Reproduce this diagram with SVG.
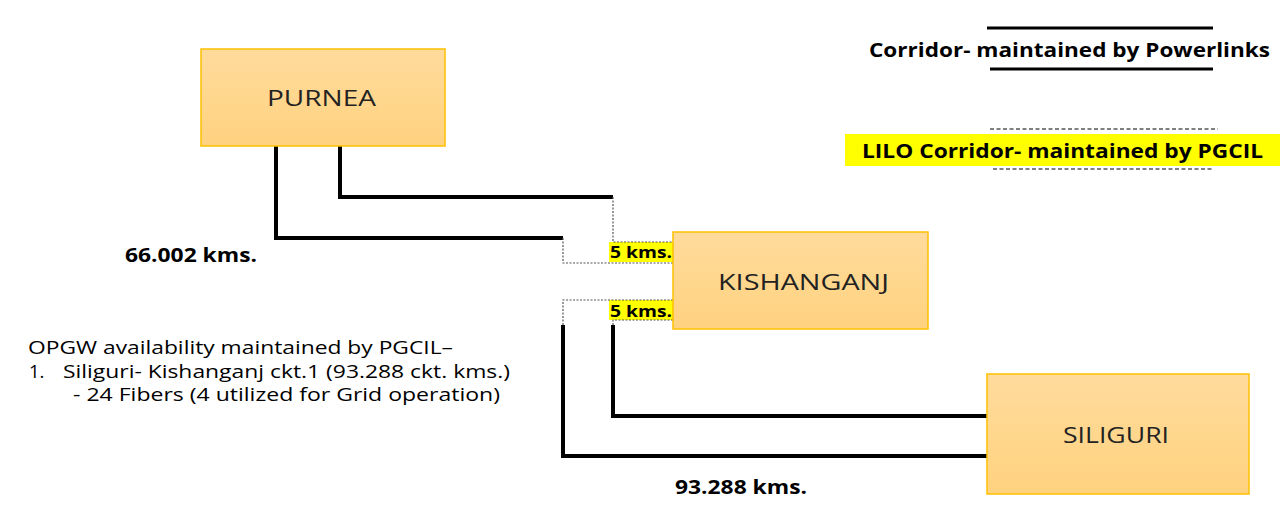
<svg xmlns="http://www.w3.org/2000/svg" width="1287" height="513" viewBox="0 0 1287 513">
<defs>
<linearGradient id="boxg" x1="0" y1="0" x2="0" y2="1">
<stop offset="0" stop-color="#FFDB9C"/>
<stop offset="1" stop-color="#FFD27F"/>
</linearGradient>
<style>
.box{fill:url(#boxg);stroke:#FFC000;stroke-width:1.5}
.bl{font-family:"Open Sans","Noto Sans","DejaVu Sans",sans-serif;font-size:22px;fill:#222}
.thick{fill:none;stroke:#000;stroke-width:4}
.dot{fill:none;stroke:#555;stroke-width:1.2;stroke-dasharray:2 1.5}
.b{font-family:"Open Sans","Noto Sans","DejaVu Sans",sans-serif;font-weight:bold;fill:#000}
.t{font-family:"Open Sans","Noto Sans","DejaVu Sans",sans-serif;font-size:18.5px;fill:#000}
.hl{fill:#FFFF00}
</style>
</defs>
<rect width="1287" height="513" fill="#fff"/>
<g id="connectors">
<polyline class="thick" points="276,146 276,238 563,238"/>
<polyline class="thick" points="340,146 340,197 613,197"/>
<polyline class="thick" points="563,325 563,456 987,456"/>
<polyline class="thick" points="613,325 613,416 987,416"/>
<rect class="hl" x="609" y="242" width="64" height="20"/>
<rect class="hl" x="609" y="300" width="64" height="20"/>
<polyline class="dot" points="563,238 563,263 673,263"/>
<polyline class="dot" points="613,197 613,242 673,242"/>
<polyline class="dot" points="563,325 563,300 673,300"/>
<polyline class="dot" points="613,325 613,320 673,320"/>
<text class="b" x="610" y="258" font-size="16" textLength="62" lengthAdjust="spacingAndGlyphs">5 kms.</text>
<text class="b" x="610" y="317" font-size="16" textLength="62" lengthAdjust="spacingAndGlyphs">5 kms.</text>
<text class="b" x="125" y="262" font-size="19" textLength="132" lengthAdjust="spacingAndGlyphs">66.002 kms.</text>
<text class="b" x="675" y="494" font-size="19" textLength="132" lengthAdjust="spacingAndGlyphs">93.288 kms.</text>
</g>
<g id="purnea">
<rect class="box" x="201" y="49" width="244" height="97"/>
<text class="bl" x="267" y="106" textLength="109" lengthAdjust="spacingAndGlyphs">PURNEA</text>
</g>
<g id="kishanganj">
<rect class="box" x="673" y="232" width="255" height="97"/>
<text class="bl" x="718" y="290" textLength="171" lengthAdjust="spacingAndGlyphs">KISHANGANJ</text>
</g>
<g id="siliguri">
<rect class="box" x="987" y="374" width="262" height="120"/>
<text class="bl" x="1063" y="443" textLength="106" lengthAdjust="spacingAndGlyphs">SILIGURI</text>
</g>
<g id="legend">
<line x1="987" y1="28" x2="1213" y2="28" stroke="#000" stroke-width="3"/>
<text class="b" x="869" y="57" font-size="20" textLength="401" lengthAdjust="spacingAndGlyphs">Corridor- maintained by Powerlinks</text>
<line x1="990" y1="69" x2="1213" y2="69" stroke="#000" stroke-width="3"/>
<line x1="990" y1="129" x2="1218" y2="129" stroke="#000" stroke-width="1" stroke-dasharray="4 2.5"/>
<rect class="hl" x="845" y="134" width="435" height="32"/>
<text class="b" x="862" y="158" font-size="20" textLength="401" lengthAdjust="spacingAndGlyphs">LILO Corridor- maintained by PGCIL</text>
<line x1="993" y1="169" x2="1213" y2="169" stroke="#000" stroke-width="1" stroke-dasharray="4 2.5"/>
</g>
<g id="notes">
<text class="t" x="28" y="354" textLength="425" lengthAdjust="spacingAndGlyphs">OPGW availability maintained by PGCIL–</text>
<text class="t" x="29" y="378">1.</text>
<text class="t" x="63" y="378" textLength="447" lengthAdjust="spacingAndGlyphs">Siliguri- Kishanganj ckt.1 (93.288 ckt. kms.)</text>
<text class="t" x="73" y="401" textLength="427" lengthAdjust="spacingAndGlyphs">- 24 Fibers (4 utilized for Grid operation)</text>
</g>
</svg>
